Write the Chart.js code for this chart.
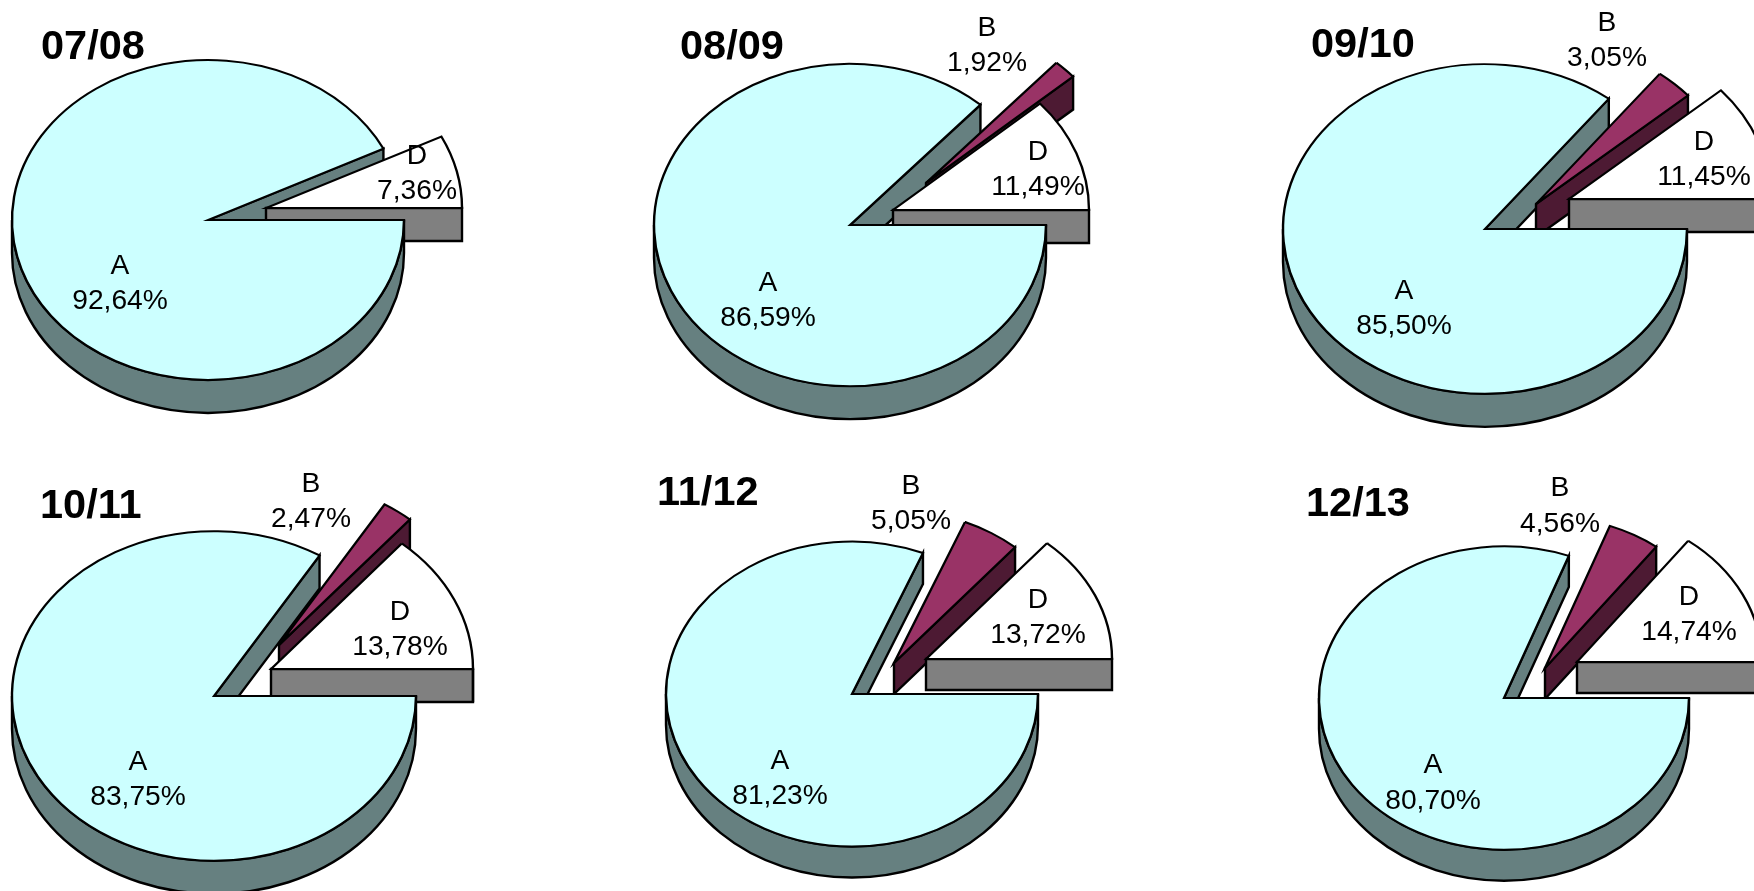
<!DOCTYPE html>
<html>
<head>
<meta charset="utf-8">
<script src="https://cdn.jsdelivr.net/npm/chart.js@4/dist/chart.umd.js"></script>
<style>
html,body{margin:0;padding:0;background:#fff;width:1754px;height:891px;overflow:hidden;position:relative}
canvas{position:absolute}
</style>
</head>
<body>
<script>
// ---- data ----
const periods = ['07/08','08/09','09/10','10/11','11/12','12/13'];
const categories = ['A','B','D'];
const valuesA = [92.64,86.59,85.50,83.75,81.23,80.70];
const valuesB = [0,1.92,3.05,2.47,5.05,4.56];
const valuesD = [7.36,11.49,11.45,13.78,13.72,14.74];

// ---- layout (page pixels) ----
const centers = [[208,220],[850,225],[1485,229],[214,696],[852,694],[1504,698]];
const radii = [196,196,202,202,186,185];
const depths = [33,33,33,33,31,31];
const squashes = [0.816,0.822,0.816,0.816,0.82,0.82];
const explodeB = [[0,0],[76,-42],[51,-25],[65,-51],[42,-31],[41,-30]];
const explodeD = [[58,-12],[43,-15],[84,-30],[57,-27],[74,-35],[73,-36]];
const titlePos = [[41,48],[680,48],[1311,46],[40,507],[657,494],[1306,505]];
// label centre x, first line y, second line y
const labelA = [[120,266,301],[768,283,318],[1404,291,326],[138,762,797],[780,761,796],[1433,765,801]];
const labelB = [null,[987,28,63],[1607,23,58],[311,484,519],[911,486,521],[1560,488,524]];
const labelD = [[417,156,191],[1038,152,187],[1704,142,177],[400,612,647],[1038,600,635],[1689,597,632]];

// ---- styles ----
const topColors = ['#CCFFFF','#993366','#FFFFFF'];
const wallColors = ['#668080','#4D1A33','#808080'];
const lineColor = '#000000';
const lineWidth = 2.4;
const canvasW = 760, canvasH = 660;

class Pie3DController extends Chart.PieController {
  wallPath(ctx, build, color){
    ctx.beginPath(); build(); ctx.closePath();
    ctx.fillStyle = color; ctx.strokeStyle = lineColor;
    ctx.lineWidth = lineWidth; ctx.lineJoin = 'miter';
    ctx.fill(); ctx.stroke();
  }
  radialWall(ctx, arc, a, ex, ey, d, k, color){
    const ax = arc.x + ex, ay = arc.y + ey, r = arc.outerRadius;
    const rx = ax + r*Math.cos(a), ry = ay + k*r*Math.sin(a);
    this.wallPath(ctx, () => {
      ctx.moveTo(ax,ay); ctx.lineTo(rx,ry); ctx.lineTo(rx,ry+d); ctx.lineTo(ax,ay+d);
    }, color);
  }
  rimWall(ctx, arc, ex, ey, d, k, color){
    const cx = arc.x + ex, cy = arc.y + ey, r = arc.outerRadius;
    [[0,Math.PI],[2*Math.PI,3*Math.PI]].forEach(([lo,hi]) => {
      const a1 = Math.max(arc.startAngle,lo), a2 = Math.min(arc.endAngle,hi);
      if (a2 <= a1) return;
      this.wallPath(ctx, () => {
        ctx.ellipse(cx,cy,r,k*r,0,a1,a2,false);
        ctx.ellipse(cx,cy+d,r,k*r,0,a2,a1,true);
      }, color);
    });
  }
  top(ctx, arc, ex, ey, k, area){
    ctx.save();
    ctx.translate(arc.x+ex, arc.y+ey);
    ctx.scale(1,k);
    ctx.translate(-arc.x,-arc.y);
    arc.draw(ctx, area);
    ctx.restore();
  }
  draw(){
    const ds = this.getDataset();
    const ctx = this.chart.ctx, area = this.chart.chartArea;
    const arcs = this._cachedMeta.data;
    const k = ds.squash, d = ds.depth, ex = ds.explode;
    const [A,B,D] = arcs;
    // hidden-side radial face of the large slice goes furthest back
    this.radialWall(ctx, A, A.endAngle, 0, 0, d, k, wallColors[0]);
    [[B,1],[D,2]].forEach(([arc,i]) => {
      if (arc.circumference <= 0) return;
      const [x,y] = ex[i];
      if (Math.cos(arc.endAngle) > 0) this.radialWall(ctx, arc, arc.endAngle, x, y, d, k, wallColors[i]);
      if (Math.cos(arc.startAngle) < 0) this.radialWall(ctx, arc, arc.startAngle, x, y, d, k, wallColors[i]);
      this.rimWall(ctx, arc, x, y, d, k, wallColors[i]);
      this.top(ctx, arc, x, y, k, area);
    });
    this.rimWall(ctx, A, 0, 0, d, k, wallColors[0]);
    this.top(ctx, A, 0, 0, k, area);
  }
}
Pie3DController.id = 'pie3d';
Chart.register(Pie3DController);

function fmt(v){ return v.toFixed(2).replace('.',',') + '%'; }

const textPlugin = {
  id:'pieText',
  afterDraw(chart){
    const t = chart.options.plugins.pieText;
    const ctx = chart.ctx, i = t.index;
    const ox = centers[i][0]-canvasW/2, oy = centers[i][1]-canvasH/2;
    ctx.save();
    ctx.fillStyle = '#000';
    ctx.textBaseline = 'middle';
    ctx.textAlign = 'left';
    ctx.font = 'bold 41.5px "Liberation Sans", Arial, sans-serif';
    ctx.fillText(periods[i], titlePos[i][0]-ox, titlePos[i][1]-oy);
    ctx.textAlign = 'center';
    ctx.font = '28.2px "Liberation Sans", Arial, sans-serif';
    [[labelA,valuesA,0],[labelB,valuesB,1],[labelD,valuesD,2]].forEach(([pos,vals,c]) => {
      if (!pos[i]) return;
      const [x,y1,y2] = pos[i];
      ctx.fillText(categories[c], x-ox, y1-oy);
      ctx.fillText(fmt(vals[i]), x-ox, y2-oy);
    });
    ctx.restore();
  }
};

periods.forEach((p,i) => {
  const cv = document.createElement('canvas');
  cv.width = canvasW; cv.height = canvasH;
  cv.style.width = canvasW+'px'; cv.style.height = canvasH+'px';
  cv.style.left = (centers[i][0]-canvasW/2)+'px';
  cv.style.top = (centers[i][1]-canvasH/2)+'px';
  document.body.appendChild(cv);
  new Chart(cv, {
    type:'pie3d',
    plugins:[textPlugin],
    data:{
      labels:categories,
      datasets:[{
        label:p,
        data:[valuesA[i],valuesB[i],valuesD[i]],
        backgroundColor:topColors,
        borderColor:lineColor,
        borderWidth:lineWidth,
        borderJoinStyle:'miter',
        radius:radii[i],
        rotation:90,
        squash:squashes[i],
        depth:depths[i],
        explode:[[0,0],explodeB[i],explodeD[i]]
      }]
    },
    options:{
      responsive:false,
      animation:false,
      events:[],
      layout:{padding:0},
      plugins:{legend:{display:false},tooltip:{enabled:false},title:{display:false},pieText:{index:i}}
    }
  });
});
</script>
</body>
</html>
